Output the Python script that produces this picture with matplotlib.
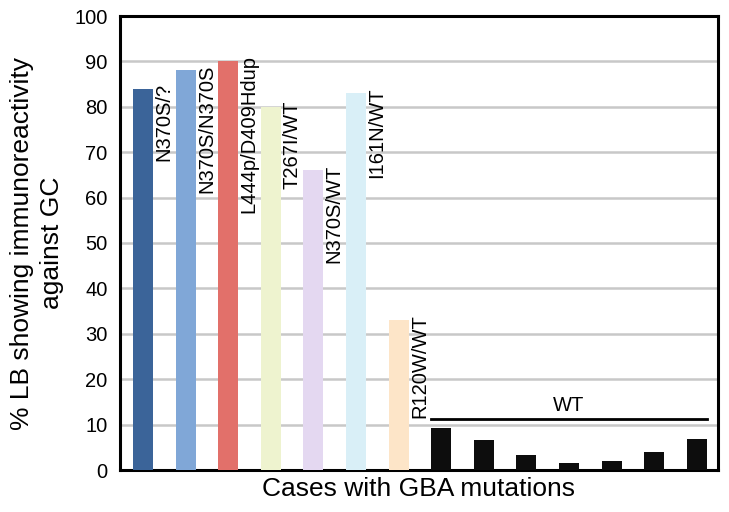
import matplotlib
matplotlib.use("Agg")
import matplotlib.pyplot as plt

plt.rcParams['font.family'] = ['Liberation Sans', 'DejaVu Sans']

# data
cases = ["N370S/?", "N370S/N370S", "L444p/D409Hdup", "T267I/WT",
         "N370S/WT", "I161N/WT", "R120W/WT",
         "WT", "WT", "WT", "WT", "WT", "WT", "WT"]
values = [84, 88, 90, 80, 66, 83, 33, 9.2, 6.7, 3.4, 1.6, 2.0, 4.0, 6.9]
colors = ["#3b6499", "#80a7d7", "#e2706a", "#eef3cf", "#e4d8f1",
          "#d9eff7", "#fde5c8"] + ["#0d0d0d"] * 7
wt_line_level = 11.2

fig = plt.figure(figsize=(7.29, 5.12), dpi=100)
ax = fig.add_axes([120 / 729, 1 - 470 / 512, 598 / 729, 454 / 512])

xs = list(range(len(values)))
ax.bar(xs, values, width=0.47, color=colors, zorder=3)

# mutation labels next to the coloured bars
for x, v, name in zip(xs[:7], values[:7], cases[:7]):
    ax.text(x + 0.27, v + 1.3, name, rotation=90, ha="left", va="top",
            fontsize=14.5, zorder=4)

# bracket over the wild-type cases
ax.plot([xs[7] - 0.23, xs[-1] + 0.23], [wt_line_level, wt_line_level],
        color="black", lw=2, zorder=4)
ax.text((xs[7] + xs[-1]) / 2, wt_line_level + 1.0, "WT", ha="center",
        va="bottom", fontsize=14.5)

ax.set_xlim(-0.54, 13.5)
ax.set_ylim(0, 100)
ax.set_yticks(range(0, 101, 10))
ax.set_xticks([])
ax.tick_params(axis="y", length=0, labelsize=14.5, pad=9)
ax.yaxis.grid(True, color="#c8c8c8", lw=1.8, zorder=0)
for s in ax.spines.values():
    s.set_linewidth(2.2)

ax.set_ylabel("% LB showing immunoreactivity\nagainst GC", fontsize=19,
              labelpad=7, linespacing=1.35)
ax.set_xlabel("Cases with GBA mutations", fontsize=19, labelpad=5)

fig.savefig("out.png", dpi=100)
